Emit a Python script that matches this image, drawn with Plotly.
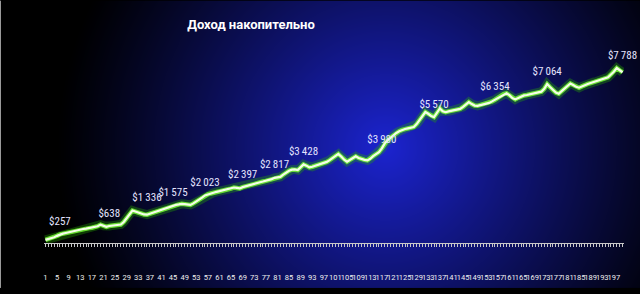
import base64, struct, zlib
import numpy as np
import plotly.graph_objects as go

# ---------------- data ----------------
days = list(range(1, 201))
cum_income = [
    10, 45, 85, 130, 190, 257, 290, 320, 355, 390,
    420, 450, 480, 500, 520, 540, 560, 585, 625, 700,
    650, 600, 638, 655, 665, 680, 705, 820, 990, 1180,
    1336, 1290, 1240, 1195, 1160, 1150, 1195, 1245, 1290, 1335,
    1375, 1410, 1460, 1520, 1575, 1595, 1615, 1640, 1630, 1605,
    1590, 1660, 1740, 1820, 1920, 2023, 2070, 2110, 2150, 2185,
    2215, 2245, 2275, 2300, 2330, 2380, 2360, 2340, 2397, 2440,
    2480, 2520, 2550, 2580, 2620, 2650, 2680, 2720, 2760, 2817,
    2830, 2860, 2960, 3060, 3140, 3190, 3200, 3170, 3290, 3428,
    3370, 3290, 3320, 3360, 3400, 3440, 3490, 3540, 3620, 3720,
    3830, 3900, 3780, 3640, 3550, 3630, 3720, 3790, 3720, 3660,
    3630, 3610, 3680, 3800, 3890, 3980, 4150, 4380, 4520, 4640,
    4750, 4850, 4930, 4990, 5030, 5060, 5080, 5120, 5250, 5420,
    5620, 5800, 5720, 5620, 5570, 5760, 5960, 5830, 5790, 5830,
    5860, 5880, 5900, 5940, 6030, 6140, 6250, 6160, 6090, 6080,
    6110, 6140, 6170, 6210, 6280, 6354, 6450, 6540, 6610, 6650,
    6560, 6430, 6370, 6440, 6510, 6550, 6570, 6600, 6620, 6650,
    6680, 6720, 6850, 7064, 6930, 6800, 6680, 6630, 6750, 6860,
    6980, 7090, 7020, 6940, 6900, 6960, 7030, 7070, 7110, 7150,
    7180, 7220, 7260, 7300, 7370, 7500, 7620, 7788, 7690, 7600,
]
label_days = [6, 23, 36, 45, 56, 69, 80, 90, 117, 135, 156, 174, 200]
label_values = [257, 638, 1336, 1575, 2023, 2397, 2817, 3428, 3980, 5570, 6354, 7064, 7788]
tick_days = list(range(1, 201, 4))
title_text = "Доход накопительно"

# ---------------- layout geometry ----------------
W, H = 640, 294
ML, MR, MT, MB = 44, 16, 30, 46
PW, PH = W - ML - MR, H - MT - MB

# ---------------- radial gradient background (PNG) ----------------
yy, xx = np.mgrid[0:H, 0:W].astype(float)
cx, cy, rx, ry = 385.0, 150.0, 330.0, 340.0
t = np.sqrt(((xx - cx) / rx) ** 2 + ((yy - cy) / ry) ** 2)
f = np.clip(1.0 - t, 0, 1) ** 1.15
center = np.array([28, 36, 208], dtype=float)
img = (f[..., None] * center[None, None, :]).clip(0, 255).astype(np.uint8)

def png_uri(arr):
    h, w, _ = arr.shape
    raw = b"".join(b"\x00" + arr[r].tobytes() for r in range(h))
    def chunk(tag, data):
        return (struct.pack(">I", len(data)) + tag + data +
                struct.pack(">I", zlib.crc32(tag + data) & 0xFFFFFFFF))
    png = (b"\x89PNG\r\n\x1a\n" +
           chunk(b"IHDR", struct.pack(">IIBBBBB", w, h, 8, 2, 0, 0, 0)) +
           chunk(b"IDAT", zlib.compress(raw, 9)) + chunk(b"IEND", b""))
    return "data:image/png;base64," + base64.b64encode(png).decode()

bg_uri = png_uri(img)

# ---------------- figure ----------------
fig = go.Figure()
fig.add_trace(go.Scatter(x=days, y=cum_income, mode="lines",
                         line=dict(color="rgba(40,170,0,0.35)", width=9),
                         hoverinfo="skip", showlegend=False))
fig.add_trace(go.Scatter(x=days, y=cum_income, mode="lines",
                         line=dict(color="rgba(110,235,50,0.9)", width=4.5),
                         hoverinfo="skip", showlegend=False))
fig.add_trace(go.Scatter(x=days, y=cum_income, mode="lines",
                         line=dict(color="#f4ffe6", width=2.2),
                         showlegend=False))

label_text = ["$" + f"{v:,}".replace(",", "\u2009") for v in label_values]
fig.add_trace(go.Scatter(x=label_days, y=label_values, mode="markers+text",
                         marker=dict(size=9, opacity=0),
                         text=label_text, textposition="top center",
                         textfont=dict(family="Liberation Sans Narrow, Roboto Condensed, Roboto, sans-serif",
                                       size=11, color="#e4e4ff"),
                         cliponaxis=False, hoverinfo="skip", showlegend=False))

fig.update_layout(
    width=W, height=H,
    margin=dict(l=ML, r=MR, t=MT, b=MB, pad=0),
    paper_bgcolor="black", plot_bgcolor="rgba(0,0,0,0)",
    title=dict(text="<b>" + title_text + "</b>", x=251 / W, xref="container", xanchor="center",
               y=1 - 24 / H, yref="container", yanchor="middle",
               font=dict(family="Roboto, sans-serif", size=13, color="white")),
    images=[dict(source=bg_uri, xref="paper", yref="paper",
                 x=-ML / PW, y=1 + MT / PH, sizex=W / PW, sizey=H / PH,
                 xanchor="left", yanchor="top", sizing="stretch", layer="below")],
    shapes=[dict(type="line", xref="paper", yref="paper",
                 x0=-(ML - 0.5) / PW, x1=-(ML - 0.5) / PW, y0=-MB / PH, y1=1 + MT / PH,
                 line=dict(color="#9a9a9a", width=1))],
    xaxis=dict(type="linear", range=[0.5, 200.5], showgrid=False, zeroline=False,
               showline=True, linecolor="#c8c8c8", linewidth=1,
               tickmode="array", tickvals=tick_days, ticktext=[str(d) for d in tick_days],
               ticks="outside", ticklen=3, tickwidth=1, tickcolor="#c8c8c8",
               minor=dict(dtick=1, tick0=1, ticks="outside", ticklen=3, tickwidth=1, tickcolor="#c8c8c8"),
               tickangle=0, ticklabelstandoff=24,
               tickfont=dict(family="Roboto, sans-serif", size=7.5, color="#f0f0f0")),
    yaxis=dict(range=[-133, 9513], visible=False, showgrid=False, zeroline=False),
    showlegend=False,
)

fig.write_html("out.html")
